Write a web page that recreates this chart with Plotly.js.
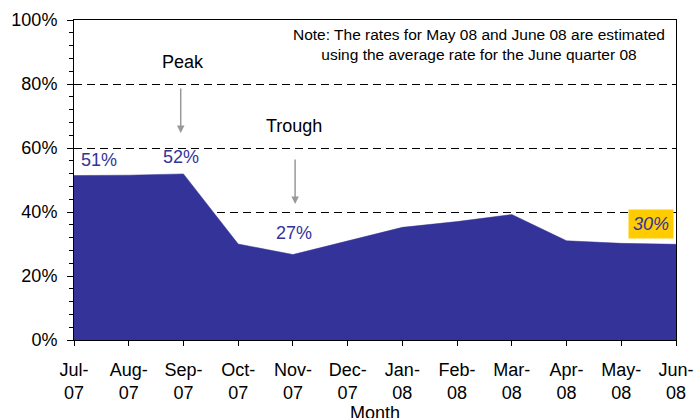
<!DOCTYPE html>
<html>
<head>
<meta charset="utf-8">
<script src="https://cdn.plot.ly/plotly-3.0.1.min.js"></script>
<style>
  html, body { margin: 0; padding: 0; background: #fff; }
  #chart { width: 695px; height: 418px; }
</style>
</head>
<body>
<div id="chart"></div>
<script>
const months = ['Jul-<br>07', 'Aug-<br>07', 'Sep-<br>07', 'Oct-<br>07', 'Nov-<br>07', 'Dec-<br>07',
                'Jan-<br>08', 'Feb-<br>08', 'Mar-<br>08', 'Apr-<br>08', 'May-<br>08', 'Jun-<br>08'];
const rates = [51.4, 51.5, 51.9, 30.0, 26.7, 31.0, 35.2, 37.0, 39.2, 31.0, 30.2, 29.9];
const yTicks = [0, 20, 40, 60, 80, 100];

const navy = '#333399';
const font = 'Arial, "Liberation Sans", sans-serif';

const trace = {
    x: months,
    y: rates,
    type: 'scatter',
    mode: 'lines',
    fill: 'tozeroy',
    fillcolor: navy,
    line: { color: navy, width: 0.5 },
    hoverinfo: 'skip'
};

function label(i, x, y) {
    return {
        x: x, y: y, xref: 'x', yref: 'y',
        text: Math.round(rates[i]) + '%',
        showarrow: false,
        font: { family: font, size: 18, color: navy }
    };
}

function arrow(x, y) {
    return {
        x: x, y: y, xref: 'x', yref: 'y',
        ax: 0, ay: -46, text: '',
        showarrow: true, arrowhead: 2, arrowsize: 1, arrowwidth: 1.5,
        arrowcolor: '#999999'
    };
}

const layout = {
    width: 695,
    height: 418,
    margin: { t: 20, r: 19, b: 78, l: 74 },
    paper_bgcolor: '#fff',
    plot_bgcolor: '#fff',
    font: { family: font, size: 18, color: '#000' },
    showlegend: false,
    xaxis: {
        type: 'category',
        range: [0, 11],
        showline: true, linecolor: '#000', linewidth: 1, mirror: true,
        ticks: 'outside', ticklen: 5, tickcolor: '#000',
        ticklabelstandoff: 8,
        showgrid: false,
        tickfont: { family: font, size: 18 }
    },
    yaxis: {
        range: [0, 100],
        tickvals: yTicks,
        ticktext: yTicks.map(v => v + '%'),
        showline: true, linecolor: '#000', linewidth: 1, mirror: true,
        ticks: 'outside', ticklen: 6, tickcolor: '#000',
        ticklabelstandoff: 6,
        minor: { dtick: 4, ticks: 'outside', ticklen: 4, tickcolor: '#000', showgrid: false },
        showgrid: true, gridcolor: '#000', gridwidth: 1, griddash: '8px,5px',
        zeroline: false,
        tickfont: { family: font, size: 18 }
    },
    annotations: [
        label(0, 0.46, 56.3),
        label(2, 1.96, 57.2),
        label(4, 4.02, 33.4),
        {
            x: 10.54, y: 36.3, xref: 'x', yref: 'y',
            text: '<i>' + Math.round(rates[11]) + '%</i>',
            showarrow: false, bgcolor: '#FFCC00', borderpad: 4,
            font: { family: font, size: 18, color: navy }
        },
        {
            x: 2, y: 86.9, xref: 'x', yref: 'y', text: 'Peak', showarrow: false,
            font: { family: font, size: 18, color: '#000' }
        },
        {
            x: 4.02, y: 66.9, xref: 'x', yref: 'y', text: 'Trough', showarrow: false,
            font: { family: font, size: 18, color: '#000' }
        },
        arrow(1.95, 64.7),
        arrow(4.04, 42.5),
        {
            x: 7.4, y: 92.2, xref: 'x', yref: 'y',
            text: 'Note: The rates for May 08 and June 08 are estimated<br>using the average rate for the June quarter 08',
            showarrow: false, align: 'center',
            font: { family: font, size: 15.5, color: '#000' }
        },
        {
            x: 0.5, y: -0.228, xref: 'paper', yref: 'paper', yanchor: 'middle',
            text: 'Month', showarrow: false,
            font: { family: font, size: 18, color: '#000' }
        }
    ]
};

Plotly.newPlot('chart', [trace], layout, { displayModeBar: false, staticPlot: true });
</script>
</body>
</html>
